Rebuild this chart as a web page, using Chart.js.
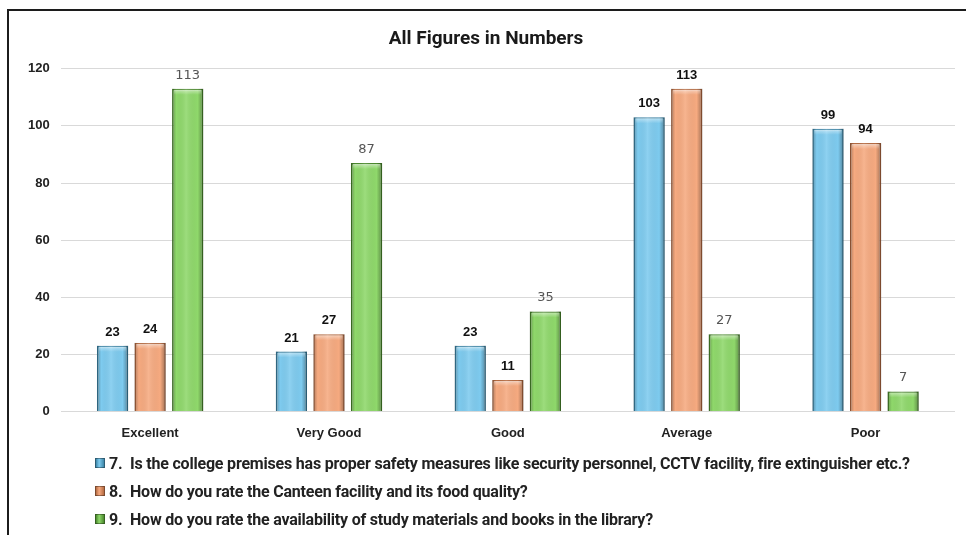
<!DOCTYPE html>
<html>
<head>
<meta charset="utf-8">
<script src="https://cdn.jsdelivr.net/npm/chart.js@4.4.1/dist/chart.umd.min.js"></script>
<style>
  html, body { margin: 0; padding: 0; background: #fff; }
  #wrap { position: relative; width: 966px; height: 535px; overflow: hidden; }
  #frame { position: absolute; left: 7px; top: 9px; width: 980px; height: 560px; border-left: 2px solid #1c1c1c; border-top: 2px solid #1c1c1c; }
  #chart-box { position: absolute; left: 0; top: 0; width: 966px; height: 459px; }
  #legend { position: absolute; left: 95px; top: 449px; font-family: Roboto, sans-serif; font-weight: bold; font-size: 16px; letter-spacing: -0.2px; color: #222; white-space: nowrap; }
  .lg-item { display: flex; align-items: center; height: 28px; }
  .lg-box { width: 8px; height: 8px; margin-right: 4px; border: 1px solid rgba(0,0,0,0.35); }
</style>
</head>
<body>
<div id="wrap">
  <div id="frame"></div>
  <div id="chart-box"><canvas id="c"></canvas></div>
  <div id="legend"></div>
</div>
<script>
const categories = ['Excellent', 'Very Good', 'Good', 'Average', 'Poor'];
const seriesNames = [
  '7.  Is the college premises has proper safety measures like security personnel, CCTV facility, fire extinguisher etc.?',
  '8.  How do you rate the Canteen facility and its food quality?',
  '9.  How do you rate the availability of study materials and books in the library?'
];
const safetyValues = [23, 21, 23, 103, 99];
const canteenValues = [24, 27, 11, 113, 94];
const libraryValues = [113, 87, 35, 27, 7];
const yTicks = [0, 20, 40, 60, 80, 100, 120];

const fills = ['#7ecbef', '#f6aa80', '#8fd86b'];
const edges = ['#3d86a8', '#b56b42', '#4b8a2d'];

// bevel shading on top of every bar, from the bar geometry chart.js laid out
const bevel = {
  id: 'bevel',
  afterDatasetsDraw(chart) {
    const ctx = chart.ctx;
    chart.data.datasets.forEach((ds, i) => {
      chart.getDatasetMeta(i).data.forEach(bar => {
        const left = bar.x - bar.width / 2, right = bar.x + bar.width / 2;
        const top = bar.y, bottom = bar.base;
        const g = ctx.createLinearGradient(left, 0, right, 0);
        g.addColorStop(0, 'rgba(0,0,0,0.28)');
        g.addColorStop(0.14, 'rgba(0,0,0,0)');
        g.addColorStop(0.45, 'rgba(255,255,255,0.12)');
        g.addColorStop(0.82, 'rgba(0,0,0,0)');
        g.addColorStop(1, 'rgba(0,0,0,0.35)');
        ctx.save();
        ctx.fillStyle = g;
        ctx.fillRect(left, top, right - left, bottom - top);
        const h = Math.min(6, bottom - top);
        const t = ctx.createLinearGradient(0, top, 0, top + h);
        t.addColorStop(0, 'rgba(255,255,255,0.55)');
        t.addColorStop(1, 'rgba(255,255,255,0)');
        ctx.fillStyle = t;
        ctx.fillRect(left + 2, top + 1, right - left - 4, h);
        ctx.restore();
      });
    });
  }
};

const valueLabels = {
  id: 'valueLabels',
  afterDatasetsDraw(chart) {
    const ctx = chart.ctx;
    ctx.save();
    ctx.textAlign = 'center';
    ctx.textBaseline = 'bottom';
    chart.data.datasets.forEach((ds, i) => {
      if (i === 2) {
        ctx.font = '13px "DejaVu Sans"';
        ctx.fillStyle = '#555';
      } else {
        ctx.font = 'bold 13px "Liberation Sans", Arial, sans-serif';
        ctx.fillStyle = '#111';
      }
      chart.getDatasetMeta(i).data.forEach((bar, j) => {
        ctx.fillText(ds.data[j], bar.x, bar.y - 7);
      });
    });
    ctx.restore();
  }
};

const values = [safetyValues, canteenValues, libraryValues];

new Chart(document.getElementById('c'), {
  type: 'bar',
  data: {
    labels: categories,
    datasets: values.map((v, i) => ({
      label: seriesNames[i],
      data: v,
      backgroundColor: fills[i],
      borderColor: edges[i],
      borderWidth: 1.5,
      categoryPercentage: 0.63,
      barPercentage: 0.83
    }))
  },
  options: {
    responsive: true,
    maintainAspectRatio: false,
    animation: false,
    layout: { padding: { left: 17, right: 11, top: 0, bottom: 4 } },
    scales: {
      x: {
        grid: { display: false, drawTicks: false },
        border: { display: false },
        ticks: {
          padding: 14,
          color: '#222',
          font: { family: "'Liberation Sans', Arial, sans-serif", size: 13, weight: 'bold' }
        }
      },
      y: {
        min: 0,
        max: 120,
        afterBuildTicks(scale) { scale.ticks = yTicks.map(v => ({ value: v })); },
        grid: { color: '#d9d9d9', drawTicks: false, lineWidth: 1 },
        border: { display: false },
        ticks: {
          padding: 11,
          color: '#222',
          font: { family: "'Liberation Sans', Arial, sans-serif", size: 13, weight: 'bold' }
        }
      }
    },
    plugins: {
      legend: { display: false },
      tooltip: { enabled: false },
      title: {
        display: true,
        text: 'All Figures in Numbers',
        color: '#1a1a1a',
        font: { family: 'Roboto, sans-serif', size: 19, weight: 'bold' },
        padding: { top: 28, bottom: 18 }
      }
    }
  },
  plugins: [bevel, valueLabels]
});

const legend = document.getElementById('legend');
legend.innerHTML = seriesNames.map((name, i) => `
  <div class="lg-item">
    <span class="lg-box" style="background:linear-gradient(90deg, ${edges[i]}, ${fills[i]} 40%, ${edges[i]})"></span>
    <span>${name.replace(/  /g, ' &nbsp;')}</span>
  </div>`).join('');
</script>
</body>
</html>
